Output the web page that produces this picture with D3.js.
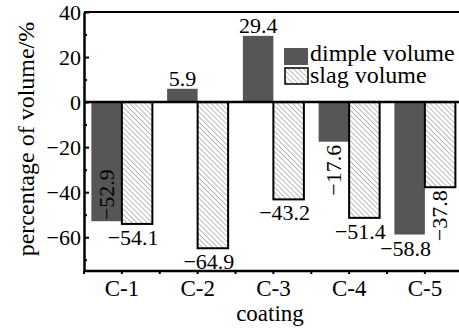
<!DOCTYPE html>
<html><head><meta charset="utf-8">
<script src="https://cdn.jsdelivr.net/npm/d3@7"></script>
<style>
html,body{margin:0;padding:0;background:#fff;}
text{font-family:"Liberation Serif","Times New Roman",serif;}
</style></head>
<body><div id="chart"></div>
<script>
const categories = ["C-1","C-2","C-3","C-4","C-5"];
const dimpleValues = [-52.9, 5.9, 29.4, -17.6, -58.8];
const slagValues = [-54.1, -64.9, -43.2, -51.4, -37.8];
const seriesNames = ["dimple volume","slag volume"];
const yMajorTicks = [40,20,0,-20,-40,-60];
const yMinorTicks = [30,10,-10,-30,-50,-70];

const W = 459, H = 329;
const svg = d3.select("#chart").append("svg").attr("width",W).attr("height",H);

const defs = svg.append("defs");
const pat = defs.append("pattern").attr("id","hatch").attr("patternUnits","userSpaceOnUse")
  .attr("width",3.6).attr("height",3.6).attr("patternTransform","rotate(-45)");
pat.append("rect").attr("width",3.6).attr("height",3.6).attr("fill","#fff");
pat.append("line").attr("x1",0).attr("y1",0).attr("x2",0).attr("y2",3.6)
  .attr("stroke","#777").attr("stroke-width",1);

const left = 84, band = 75.75;
const x = d3.scaleBand().domain(categories).range([left, left + band*5]).padding(0);
const barW = 30.5;
const x1 = d3.scaleBand().domain(["dimple","slag"]).range([band/2 - barW, band/2 + barW]).padding(0);
const y = d3.scaleLinear().domain([-75, 40]).range([271, 12]);

const dark = "#565656";
const fs = 22;

// bars
const g = svg.append("g");
categories.forEach((c,i)=>{
  const dv = dimpleValues[i], sv = slagValues[i];
  g.append("rect").attr("x", x(c)+x1("dimple")).attr("width", x1.bandwidth())
    .attr("y", y(Math.max(0,dv))).attr("height", Math.abs(y(dv)-y(0)))
    .attr("fill", dark);
  g.append("rect").attr("x", x(c)+x1("slag")).attr("width", x1.bandwidth())
    .attr("y", y(Math.max(0,sv))).attr("height", Math.abs(y(sv)-y(0)))
    .attr("fill", "url(#hatch)").attr("stroke","#000").attr("stroke-width",2);
});

// zero line and top frame
svg.append("line").attr("x1",left).attr("x2",W).attr("y1",y(0)).attr("y2",y(0))
  .attr("stroke","#000").attr("stroke-width",2.5);
svg.append("line").attr("x1",left).attr("x2",W).attr("y1",y(40)).attr("y2",y(40))
  .attr("stroke","#000").attr("stroke-width",2);

// axes
const yAxis = svg.append("g").attr("transform",`translate(${left},0)`)
  .call(d3.axisLeft(y).tickValues(yMajorTicks).tickSizeInner(-5).tickSizeOuter(0).tickPadding(3));
yAxis.select(".domain").attr("stroke-width",2.5);
yAxis.selectAll(".tick line").attr("stroke-width",2);
yAxis.selectAll("text").attr("font-size",fs).attr("fill","#000")
  .attr("font-family","'Liberation Serif','Times New Roman',serif");
const yMinor = svg.append("g").attr("transform",`translate(${left},0)`)
  .call(d3.axisLeft(y).tickValues(yMinorTicks).tickSizeInner(-3).tickSizeOuter(0).tickFormat(""));
yMinor.select(".domain").remove();
yMinor.selectAll(".tick line").attr("stroke-width",2);

const xAxis = svg.append("g").attr("transform",`translate(0,${y(-75)})`)
  .call(d3.axisBottom(x).tickSizeInner(3).tickSizeOuter(0).tickPadding(6));
xAxis.select(".domain").attr("stroke-width",2.5).attr("d",`M${left},0H${W}`);
xAxis.selectAll(".tick line").attr("stroke-width",2);
xAxis.selectAll("text").attr("font-size",fs+1).attr("fill","#000")
  .attr("font-family","'Liberation Serif','Times New Roman',serif");
const xMinorVals = d3.range(0,6).map(i=>left + i*band);
svg.append("g").selectAll("line").data(xMinorVals).join("line")
  .attr("x1",d=>d).attr("x2",d=>d).attr("y1",y(-75)).attr("y2",y(-75)+3)
  .attr("stroke","#000").attr("stroke-width",2);

// axis titles
svg.append("text").attr("x", 270).attr("y", 321).attr("text-anchor","middle")
  .attr("font-size",fs+1).text("coating");
svg.append("text").attr("transform","translate(34,139) rotate(-90)").attr("text-anchor","middle")
  .attr("font-size",24).text("percentage of volume/%");

// value labels
const fmt = v => (v<0 ? "\u2212" : "") + Math.abs(v).toFixed(1);
const cx = (c,s) => x(c)+x1(s)+x1.bandwidth()/2;
const dimpleMode = ["rotIn","above","above","rotBelow","below"];
const slagMode = ["below","below","below","below","rotBelow"];
function addLabel(c, s, v, mode){
  const px = cx(c,s);
  if(mode==="above"){
    svg.append("text").attr("x",px).attr("y",y(v)-3).attr("text-anchor","middle").attr("font-size",fs).text(fmt(v));
  } else if(mode==="below"){
    svg.append("text").attr("x",px-4).attr("y",y(v)+21).attr("text-anchor","middle").attr("font-size",fs).text(fmt(v));
  } else if(mode==="rotIn"){
    svg.append("text").attr("transform",`translate(${px+7},${y(v)-1}) rotate(-90)`).attr("text-anchor","start")
      .attr("font-size",fs).text(fmt(v));
  } else {
    svg.append("text").attr("transform",`translate(${px+7},${y(v)+3}) rotate(-90)`).attr("text-anchor","end")
      .attr("font-size",fs).text(fmt(v));
  }
}
categories.forEach((c,i)=>{
  addLabel(c,"dimple",dimpleValues[i],dimpleMode[i]);
  addLabel(c,"slag",slagValues[i],slagMode[i]);
});

// legend
const lg = svg.append("g");
lg.append("rect").attr("x",284).attr("y",48).attr("width",24).attr("height",17).attr("fill",dark);
lg.append("rect").attr("x",285).attr("y",68).attr("width",23).attr("height",16).attr("fill","url(#hatch)")
  .attr("stroke","#000").attr("stroke-width",1.5);
lg.append("text").attr("x",310).attr("y",61).attr("font-size",24).text(seriesNames[0]);
lg.append("text").attr("x",310).attr("y",83).attr("font-size",24).text(seriesNames[1]);
</script></body></html>
